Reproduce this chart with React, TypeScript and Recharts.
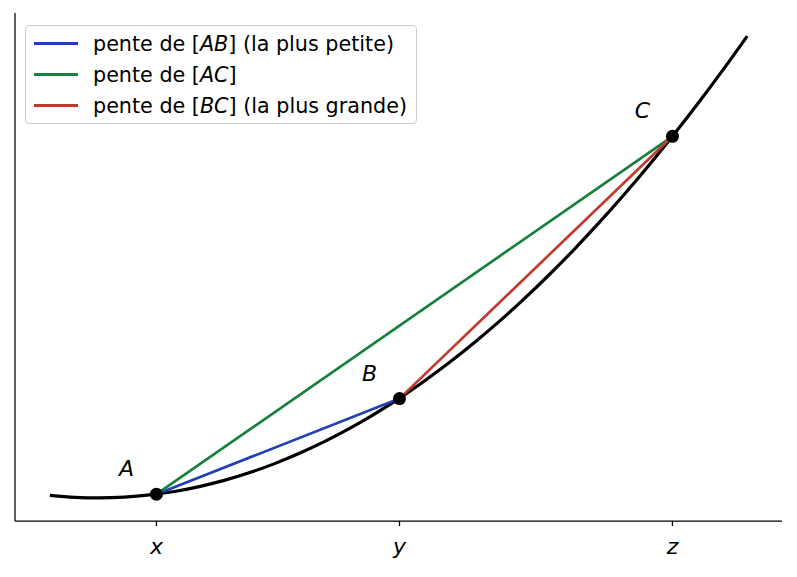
import React from "react";
import { ComposedChart, Line, Scatter, XAxis, YAxis, ReferenceLine } from "recharts";

// Curve samples (x in chart units, y in chart units)
const curveX = [0, 0.25, 0.5, 0.75, 1, 1.25, 1.5, 1.75, 2, 2.25, 2.5, 2.75, 3, 3.25, 3.5, 3.75, 4, 4.25, 4.5, 4.75, 5, 5.25, 5.5, 5.75, 6, 6.25, 6.5, 6.75, 7];
const curveY = [0.054, 0.012, 0.0, 0.017, 0.064, 0.139, 0.245, 0.379, 0.543, 0.737, 0.96, 1.212, 1.494, 1.805, 2.145, 2.515, 2.914, 3.343, 3.801, 4.288, 4.805, 5.351, 5.927, 6.532, 7.166, 7.83, 8.523, 9.246, 9.998];

// Points A, B, C
const pointNames = ["A", "B", "C"];
const pointX = [1.07, 3.51, 6.25];
const pointY = [0.08, 2.15, 7.83];

// Tick labels
const tickValues = [1.07, 3.51, 6.25];
const tickLabels = ["x", "y", "z"];

// Legend entries
const legendColors = ["#2140b3", "#17803e", "#c33a2c"];
const legendPre = ["pente de [", "pente de [", "pente de ["];
const legendItal = ["AB", "AC", "BC"];
const legendPost = ["] (la plus petite)", "]", "] (la plus grande)"];

const X_DOMAIN: [number, number] = [-0.35, 7.35];
const Y_DOMAIN: [number, number] = [-0.5, 10.5];

const curveData = curveX.map((x, i) => ({ x, y: curveY[i] }));
const pts = pointX.map((x, i) => ({ x, y: pointY[i], name: pointNames[i] }));
const chordAB = [pts[0], pts[1]];
const chordAC = [pts[0], pts[2]];
const chordBC = [pts[1], pts[2]];

const FONT = "'DejaVu Sans', sans-serif";

const Tick = (props: any) => {
  const { x, y, payload } = props;
  const idx = tickValues.indexOf(payload.value);
  return (
    <text x={x} y={y + 28} textAnchor="middle" fontFamily={FONT} fontStyle="italic" fontSize={22} fill="#000">
      {idx >= 0 ? tickLabels[idx] : ""}
    </text>
  );
};

const PointShape = (props: any) => {
  const { cx, cy, payload } = props;
  return (
    <g>
      <circle cx={cx} cy={cy} r={6.5} fill="#000" />
      <text x={cx - 30} y={cy - 18} textAnchor="middle" fontFamily={FONT} fontStyle="italic" fontSize={22} fill="#000">
        {payload.name}
      </text>
    </g>
  );
};

export default function App() {
  return (
    <div style={{ position: "relative", width: 781, height: 561 }}>
      <ComposedChart width={781} height={561} margin={{ top: 5, right: 7, left: 7, bottom: 0 }}>
        <XAxis
          type="number"
          dataKey="x"
          domain={X_DOMAIN}
          ticks={tickValues}
          tick={<Tick />}
          tickLine={{ stroke: "#000", strokeWidth: 1.25 }}
          tickSize={5}
          tickMargin={0}
          axisLine={{ stroke: "#000", strokeWidth: 1.25 }}
          height={48}
          allowDataOverflow
        />
        <YAxis type="number" dataKey="y" domain={Y_DOMAIN} hide allowDataOverflow />
        <ReferenceLine x={X_DOMAIN[0]} stroke="#000" strokeWidth={1.25} ifOverflow="visible" />
        <Line data={curveData} dataKey="y" type="monotone" stroke="#000" strokeWidth={3.2} dot={false} isAnimationActive={false} />
        <Line data={chordAB} dataKey="y" type="linear" stroke={legendColors[0]} strokeWidth={2.7} dot={false} isAnimationActive={false} />
        <Line data={chordAC} dataKey="y" type="linear" stroke={legendColors[1]} strokeWidth={2.7} dot={false} isAnimationActive={false} />
        <Line data={chordBC} dataKey="y" type="linear" stroke={legendColors[2]} strokeWidth={2.7} dot={false} isAnimationActive={false} />
        <Scatter data={pts} dataKey="y" fill="#000" shape={<PointShape />} isAnimationActive={false} />
      </ComposedChart>
      <div
        style={{
          position: "absolute",
          left: 17,
          top: 17,
          width: 392,
          height: 99,
          border: "1.3px solid #cccccc",
          borderRadius: 4,
          background: "rgba(255,255,255,0.8)",
          fontFamily: FONT,
          fontSize: 20.7,
          color: "#000",
          paddingTop: 2,
          boxSizing: "border-box",
        }}
      >
        {legendItal.map((it, i) => (
          <div key={i} style={{ height: 31, display: "flex", alignItems: "center", whiteSpace: "nowrap" }}>
            <div style={{ marginLeft: 8, width: 44, height: 3, background: legendColors[i] }} />
            <span style={{ marginLeft: 15 }}>
              {legendPre[i]}
              <i>{it}</i>
              {legendPost[i]}
            </span>
          </div>
        ))}
      </div>
    </div>
  );
}
